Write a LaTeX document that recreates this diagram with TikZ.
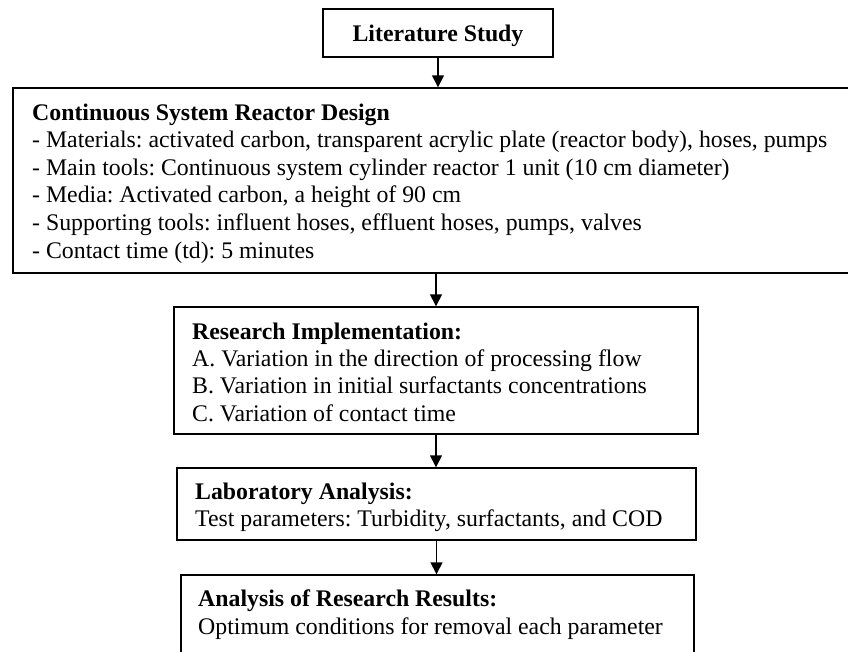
\documentclass[tikz,border=0pt]{standalone}
\usepackage{fontspec}
\setmainfont{Liberation Serif}
\frenchspacing
\usetikzlibrary{arrows.meta}
\begin{document}
\begin{tikzpicture}[x=1pt,y=-1pt,
  box/.style={draw=black, line width=1.4pt, rectangle, inner sep=0pt},
  txt/.style={anchor=base west, inner sep=0pt, font=\fontsize{23.8}{27}\selectfont},
  flow/.style={line width=1.4pt, -{Triangle[length=12pt,width=12pt]}}]
\useasboundingbox (0,0) rectangle (848,651);
\clip (0,0) rectangle (848,651);
% boxes
\node[box, minimum width=230pt, minimum height=48pt, text depth=0pt,
  font=\fontsize{23.8}{27}\selectfont\bfseries]
  (lit) at (438,33) {Literature Study};
\node[box, minimum width=840pt, minimum height=185pt] (design) at (433,180.5) {};
\node[box, minimum width=524pt, minimum height=127pt] (impl) at (436,370.5) {};
\node[box, minimum width=519pt, minimum height=72pt] (lab) at (436.5,504) {};
\node[box, minimum width=513pt, minimum height=100pt] (res) at (437.5,625) {};
% texts of the design box
\node[txt] (d0) at (32,120) {\textbf{Continuous System Reactor Design}};
\node[txt] (d1) at (32,147.5) {- Materials: activated carbon, transparent acrylic plate (reactor body), hoses, pumps};
\node[txt] (d2) at (32,175) {- Main tools: Continuous system cylinder reactor 1 unit (10 cm diameter)};
\node[txt] (d3) at (32,202.5) {- Media: Activated carbon, a height of 90 cm};
\node[txt] (d4) at (32,230) {- Supporting tools: influent hoses, effluent hoses, pumps, valves};
\node[txt] (d5) at (32,258.5) {- Contact time (td): 5 minutes};
% texts of the implementation box
\node[txt] (i0) at (192,339.5) {\textbf{Research Implementation:}};
\node[txt] (i1) at (192,366) {A. Variation in the direction of processing flow};
\node[txt] (i2) at (192,393.5) {B. Variation in initial surfactants concentrations};
\node[txt] (i3) at (192,421) {C. Variation of contact time};
% texts of the laboratory box
\node[txt] (l0) at (195,499.5) {\textbf{Laboratory Analysis:}};
\node[txt] (l1) at (195,526) {Test parameters: Turbidity, surfactants, and COD};
% texts of the results box
\node[txt] (r0) at (198,606.5) {\textbf{Analysis of Research Results:}};
\node[txt] (r1) at (198,634) {Optimum conditions for removal each parameter};
% connectors
\draw[flow] (lit.south) -- (lit.south |- design.north);
\draw[flow] (design.south -| impl.north) -- (impl.north);
\draw[flow] (impl.south) -- (impl.south |- lab.north);
\draw[flow] (lab.south) -- (lab.south |- res.north);
\end{tikzpicture}
\end{document}
